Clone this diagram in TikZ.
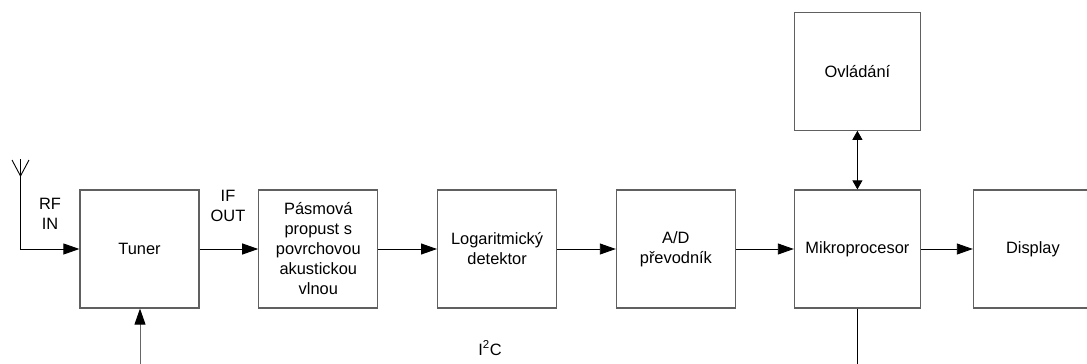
\documentclass[tikz,border=0pt]{standalone}
\usepackage{fontspec}
\setmainfont{Liberation Sans}
\usetikzlibrary{positioning, arrows.meta}

\tikzset{
    blok/.style={draw=gray!75!black, line width=1.2pt, minimum width=119pt, minimum height=118pt,
        align=center, inner sep=2pt},
    sipka/.style={line width=0.9pt, -{Triangle[length=16pt,width=11pt]}},
    obousmer/.style={line width=0.9pt, {Triangle[length=9pt,width=10pt]}-{Triangle[length=9pt,width=10pt]}},
    popis/.style={align=center, inner sep=0pt}
}

\begin{document}
\begin{tikzpicture}[x=1pt, y=1pt, font=\fontsize{16.4}{20}\selectfont, node distance=58.6pt]
    \useasboundingbox (0,0) rectangle (1087,-364);
    % hlavni retezec bloku zleva doprava
    \node[blok] (tuner) at (139.5,-249) {Tuner};
    \node[blok, right=of tuner] (saw) {Pásmová\\propust s\\povrchovou\\akustickou\\vlnou};
    \node[blok, right=of saw] (logdet) {Logaritmický\\detektor};
    \node[blok, right=of logdet] (adc) {A/D\\převodník};
    \node[blok, minimum width=126pt, right=57.8pt of adc] (mcu) {Mikroprocesor};
    \node[blok, minimum width=126pt, above=of mcu] (ovl) {Ovládání};
    \node[blok, right=51.8pt of mcu] (disp) {Display};

    % popisky
    \node[popis] (rfin) at (50,-214) {RF\\IN};
    \node[popis] (ifout) at (228,-206) {IF\\OUT};
    \node[popis] (i2c) at (490,-348) {I\textsuperscript{2}C};

    % anteny
    \coordinate (ant) at (20.5,-159);
    \draw[line width=0.9pt] (12,-160) -- (20.5,-176) -- (29,-160);
    \draw[sipka] (ant) |- (tuner.west);

    \draw[sipka] (tuner) -- (saw);
    \draw[sipka] (saw) -- (logdet);
    \draw[sipka] (logdet) -- (adc);
    \draw[sipka] (adc) -- (mcu);
    \draw[sipka] (mcu) -- (disp);
    \draw[obousmer] (ovl) -- (mcu);

    % sbernice I2C dole
    \coordinate (busT) at (140,-364);
    \coordinate (busM) at (mcu.south |- busT);
    \draw[line width=0.9pt, draw=gray!80!black, -{Triangle[length=16pt,width=11pt,color=black]}]
        (busT) -- (tuner.south -| busT);
    \draw[line width=0.9pt] (mcu.south) -- (busM);
\end{tikzpicture}
\end{document}
